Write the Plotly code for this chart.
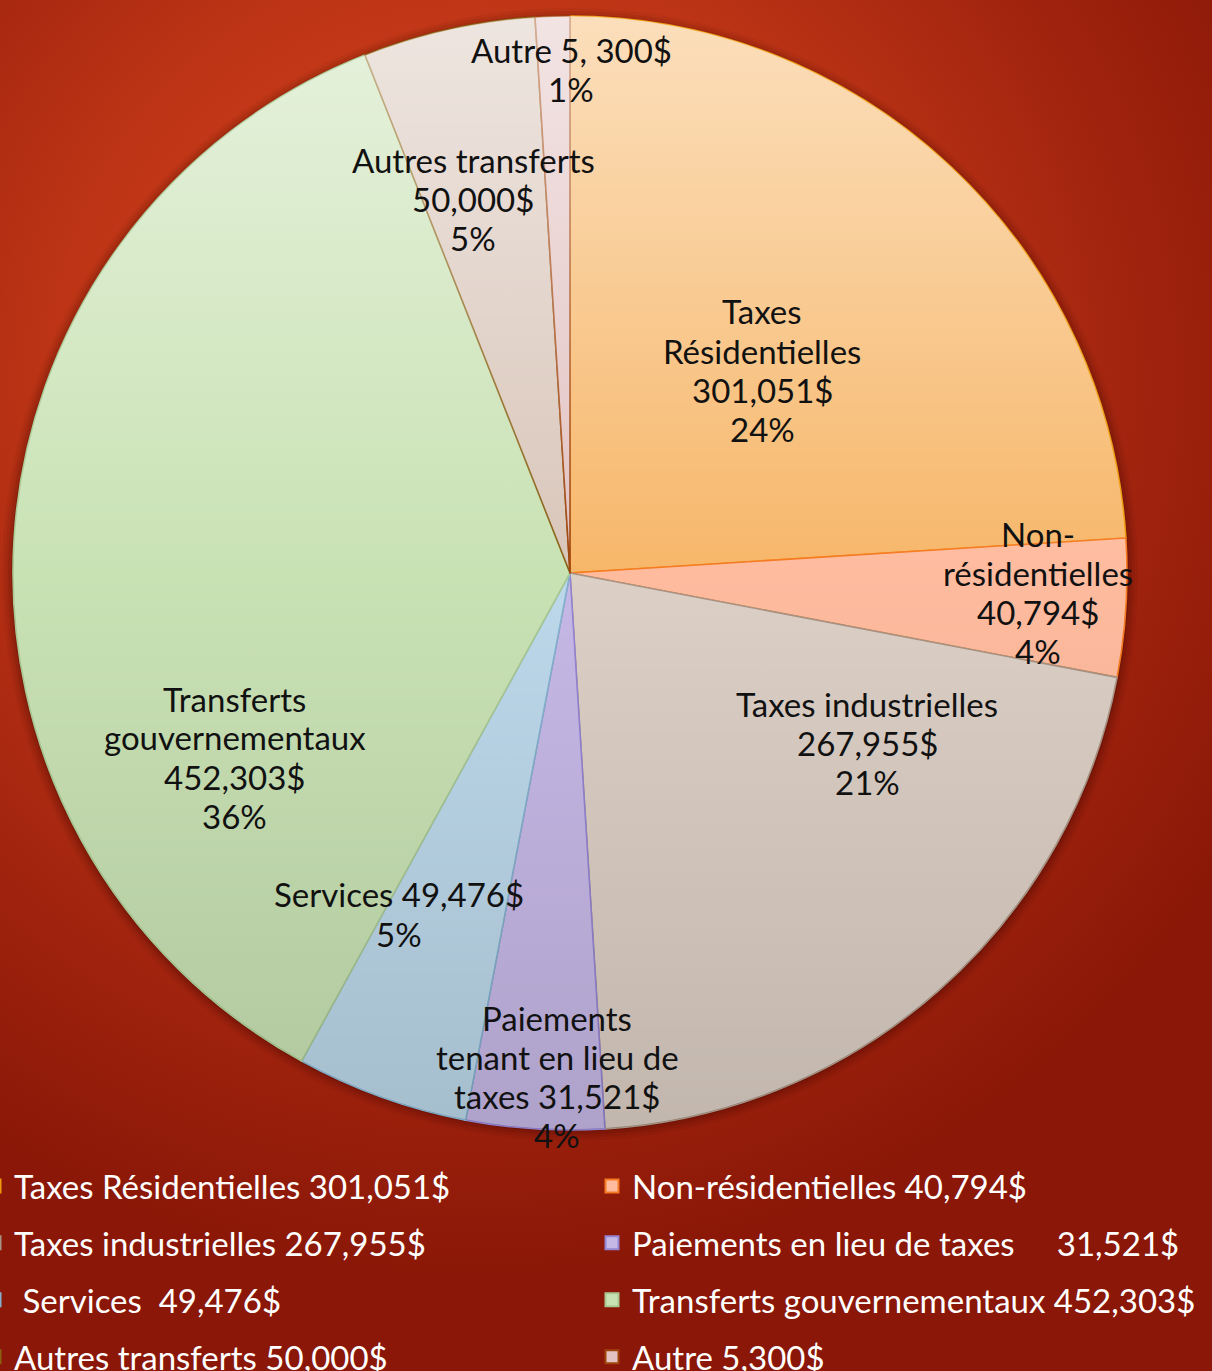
import plotly.graph_objects as go
import base64

W, H = 1212, 1371

# ---- data ----
categories = ["Taxes Résidentielles", "Non-résidentielles", "Taxes industrielles",
              "Paiements en lieu de taxes", "Services", "Transferts gouvernementaux",
              "Autres transferts", "Autre"]
amounts = ["301,051$", "40,794$", "267,955$", "31,521$", "49,476$", "452,303$", "50,000$", "5,300$"]
percents = [24, 4, 21, 4, 5, 36, 5, 1]
legend_labels = ["Taxes Résidentielles 301,051$", "Non-résidentielles 40,794$",
                 "Taxes industrielles 267,955$", "Paiements en lieu de taxes\u00a0\u00a0\u00a0\u00a0 31,521$",
                 "\u00a0Services\u00a0 49,476$", "Transferts gouvernementaux 452,303$",
                 "Autres transferts 50,000$", "Autre 5,300$"]
slice_labels = [["Taxes", "Résidentielles", "301,051$", "24%"],
                ["Non-", "résidentielles", "40,794$", "4%"],
                ["Taxes industrielles", "267,955$", "21%"],
                ["Paiements", "tenant en lieu de", "taxes 31,521$", "4%"],
                ["Services 49,476$", "5%"],
                ["Transferts", "gouvernementaux", "452,303$", "36%"],
                ["Autres transferts", "50,000$", "5%"],
                ["Autre 5, 300$", "1%"]]

# ---- styles ----
fill_colors = ["#F7B76A", "#FFBB9E", "#DCCFC5", "#C6B8E6", "#BCD8EA", "#C9E2B4", "#D9C6BA", "#E2C3C2"]
line_colors = ["#EE9A10", "#F57A22", "#A89484", "#9484D2", "#84B2CE", "#A9C993", "#8B6012", "#A0440E"]
# label centres in pixels (layout only)
label_pos_px = [(762, 370), (1038, 592), (867, 743), (557, 1076),
                (399, 914), (235, 757), (473, 199), (571, 70)]
line_step = 39

# pie geometry (pixels)
cx, cy, R = 570, 573, 557
dom_x = [(cx - R) / W, (cx + R) / W]
dom_y = [1 - (cy + R) / H, 1 - (cy - R) / H]

font_family = "Lato, 'Open Sans', sans-serif"

# background gradient as an inline svg
bg_svg = f'''<svg xmlns="http://www.w3.org/2000/svg" width="{W}" height="{H}" viewBox="0 0 {W} {H}">
<defs><radialGradient id="g" gradientUnits="userSpaceOnUse" cx="470" cy="380" r="900">
<stop offset="0" stop-color="#D6441C"/><stop offset="0.45" stop-color="#BE3516"/>
<stop offset="0.75" stop-color="#A0230E"/><stop offset="1" stop-color="#8A1707"/>
</radialGradient></defs><rect width="{W}" height="{H}" fill="url(#g)"/></svg>'''
bg_src = "data:image/svg+xml;base64," + base64.b64encode(bg_svg.encode()).decode()

# soft vertical shading overlay for the pie disc
D = 2 * R
ov_svg = f'''<svg xmlns="http://www.w3.org/2000/svg" width="{D}" height="{D}" viewBox="0 0 {D} {D}">
<defs><linearGradient id="s" x1="0" y1="0" x2="0" y2="1">
<stop offset="0" stop-color="#FFFFFF" stop-opacity="0.55"/>
<stop offset="0.5" stop-color="#FFFFFF" stop-opacity="0"/>
<stop offset="0.5" stop-color="#000000" stop-opacity="0"/>
<stop offset="1" stop-color="#000000" stop-opacity="0.12"/>
</linearGradient></defs><circle cx="{R}" cy="{R}" r="{R}" fill="url(#s)"/></svg>'''
ov_src = "data:image/svg+xml;base64," + base64.b64encode(ov_svg.encode()).decode()

fig = go.Figure()

fig.add_trace(go.Pie(
    labels=categories, values=percents, sort=False, direction="clockwise", rotation=0,
    textinfo="none", showlegend=False, hoverinfo="label+value",
    marker=dict(colors=fill_colors, line=dict(color=line_colors, width=1.6)),
    domain=dict(x=dom_x, y=dom_y),
))

# legend entries (two vertical columns)
for i, (lab, fc, lc) in enumerate(zip(legend_labels, fill_colors, line_colors)):
    fig.add_trace(go.Scatter(
        x=[None], y=[None], mode="markers", name=lab, showlegend=True,
        legendgroup=f"g{i}", legend="legend" if i % 2 == 0 else "legend2",
        marker=dict(symbol="square", size=13, color=fc, line=dict(color=lc, width=2)),
    ))

# slice labels, one annotation per line for tight line spacing
for (px, py), lines in zip(label_pos_px, slice_labels):
    n = len(lines)
    for k, txt in enumerate(lines):
        ly = py + (k - (n - 1) / 2) * line_step
        fig.add_annotation(x=px / W, y=1 - ly / H, xref="paper", yref="paper",
                           text=txt, showarrow=False, xanchor="center", yanchor="middle",
                           font=dict(family=font_family, size=33, color="#111111"))

# shadow rings under the pie
shapes = []
for k, op in [(11, 0.05), (8, 0.07), (5, 0.10), (2, 0.16)]:
    shapes.append(dict(type="circle", xref="paper", yref="paper", layer="below",
                       x0=(cx - R - k) / W, x1=(cx + R + k) / W,
                       y0=1 - (cy + R + k) / H, y1=1 - (cy - R - k + 3) / H,
                       fillcolor=f"rgba(40,0,0,{op})", line=dict(width=0)))

legend_common = dict(orientation="v", bgcolor="rgba(0,0,0,0)", borderwidth=0,
                     font=dict(family=font_family, size=33, color="white"),
                     traceorder="grouped", tracegroupgap=11,
                     xanchor="left", yanchor="top", itemclick=False)
top_px = 1158
fig.update_layout(
    width=W, height=H, margin=dict(l=0, r=0, t=0, b=0, autoexpand=False),
    paper_bgcolor="#A8280F", plot_bgcolor="rgba(0,0,0,0)",
    xaxis=dict(visible=False), yaxis=dict(visible=False),
    images=[dict(source=bg_src, xref="paper", yref="paper", x=0, y=1, sizex=1, sizey=1,
                 xanchor="left", yanchor="top", sizing="stretch", layer="below"),
            dict(source=ov_src, xref="paper", yref="paper",
                 x=(cx - R) / W, y=1 - (cy - R) / H, sizex=D / W, sizey=D / H,
                 xanchor="left", yanchor="top", sizing="stretch", layer="above")],
    shapes=shapes,
    legend=dict(x=(14 - 40) / W, y=1 - top_px / H, **legend_common),
    legend2=dict(x=(632 - 40) / W, y=1 - top_px / H, **legend_common),
)

fig.write_html("out.html", config={"displayModeBar": False},
               post_script="document.body.style.margin='0';document.body.style.overflow='hidden';")
